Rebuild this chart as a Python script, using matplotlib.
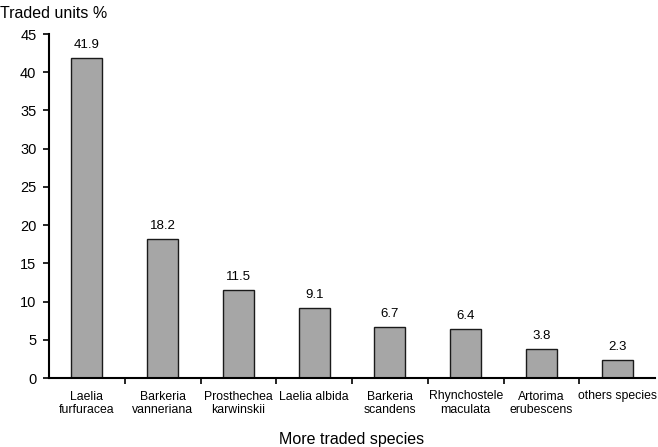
import numpy as np
import matplotlib.pyplot as plt

species = ['Laelia\nfurfuracea', 'Barkeria\nvanneriana', 'Prosthechea\nkarwinskii',
           'Laelia albida', 'Barkeria\nscandens', 'Rhynchostele\nmaculata',
           'Artorima\nerubescens', 'others species']
units = [41.9, 18.2, 11.5, 9.1, 6.7, 6.4, 3.8, 2.3]

plt.rcParams['font.family'] = ['Liberation Sans', 'DejaVu Sans']

fig = plt.figure(figsize=(6.58, 4.47), dpi=100)
ax = fig.add_axes([49 / 658, 1 - 378 / 447, 606 / 658, 344 / 447])

x = np.arange(len(species))
bars = ax.bar(x, units, width=0.41, color='#a6a6a6', edgecolor='#1a1a1a', linewidth=1.0)
for b, v in zip(bars, units):
    ax.annotate(f'{v:.1f}', (b.get_x() + b.get_width() / 2, v), xytext=(0, 5),
                textcoords='offset points', ha='center', va='bottom', fontsize=9.5)

ax.set_xlim(-0.5, len(species) - 0.5)
ax.set_ylim(0, 45)
ax.set_yticks(range(0, 46, 5))
ax.tick_params(axis='y', direction='out', length=4, width=1.2, labelsize=10.5, pad=5)

# category labels centred under bars, ticks on category boundaries
ax.set_xticks(x)
ax.set_xticklabels(species, fontsize=8.8)
ax.tick_params(axis='x', which='major', length=0, pad=9)
ax.set_xticks(np.arange(0.5, len(species) - 0.5), minor=True)
ax.tick_params(axis='x', which='minor', direction='out', length=4, width=1.2)

for s in ['top', 'right']:
    ax.spines[s].set_visible(False)
for s in ['left', 'bottom']:
    ax.spines[s].set_linewidth(1.5)

ax.set_xlabel('More traded species', fontsize=11.5, labelpad=11)
fig.text(0.0, 1 - 13 / 447, 'Traded units %', fontsize=11.5, ha='left', va='center')

fig.savefig('out.png', dpi=100)
